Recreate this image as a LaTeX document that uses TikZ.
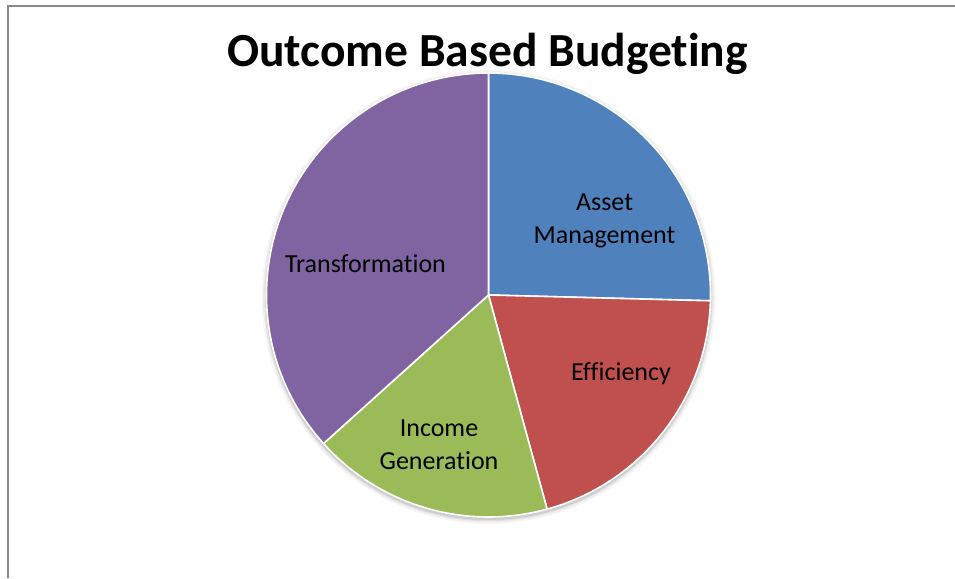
\documentclass[tikz,border=0pt]{standalone}
\usepackage{fontspec}
\setmainfont{Carlito}[RawFeature={-liga;-clig}]
\definecolor{pblue}{HTML}{4F81BD}
\definecolor{pred}{HTML}{C0504D}
\definecolor{pgreen}{HTML}{9BBB59}
\definecolor{ppurple}{HTML}{8064A2}
\definecolor{frame}{HTML}{878787}
\begin{document}
\begin{tikzpicture}[x=1pt,y=1pt,
  slice/.style={draw=white,line width=1.6pt,line join=round},
  lbl/.style={font=\fontsize{26}{33}\selectfont,align=center,inner sep=0pt,text=black},
  shadowring/.style={fill=black,opacity=#1}]
\useasboundingbox (0,0) rectangle (955,578);
\fill[white] (0,0) rectangle (955,578);
% frame (top and left edges visible)
\draw[frame,line width=2pt] (7.5,0) -- (7.5,571.5) -- (955,571.5);
% soft shadow
\coordinate (c) at (488.5,283);
\foreach \r/\o in {227/0.03,225.5/0.04,224/0.06,223/0.08}{
  \fill[shadowring=\o] ([yshift=-2pt]c) circle[radius=\r];
}
\def\R{222}
\fill[pblue,slice] (c) -- ++(90:\R) arc[start angle=90,end angle=-1.5,radius=\R] -- cycle;
\fill[pred,slice] (c) -- ++(-1.5:\R) arc[start angle=-1.5,end angle=-74.7,radius=\R] -- cycle;
\fill[pgreen,slice] (c) -- ++(-74.7:\R) arc[start angle=-74.7,end angle=-138,radius=\R] -- cycle;
\fill[ppurple,slice] (c) -- ++(-138:\R) arc[start angle=-138,end angle=-270,radius=\R] -- cycle;
% title
\node[font=\fontsize{47.5}{52}\selectfont\bfseries,inner sep=0pt] (title) at (487.5,524) {Outcome Based Budgeting};
% labels
\node[lbl] (asset) at (604.5,357.5) {Asset\\Management};
\node[lbl] (eff) at (621,204) {Efficiency};
\node[lbl] (inc) at (439,133.5) {Income\\Generation};
\node[lbl] (trans) at (365.5,314) {Transformation};
\end{tikzpicture}
\end{document}
